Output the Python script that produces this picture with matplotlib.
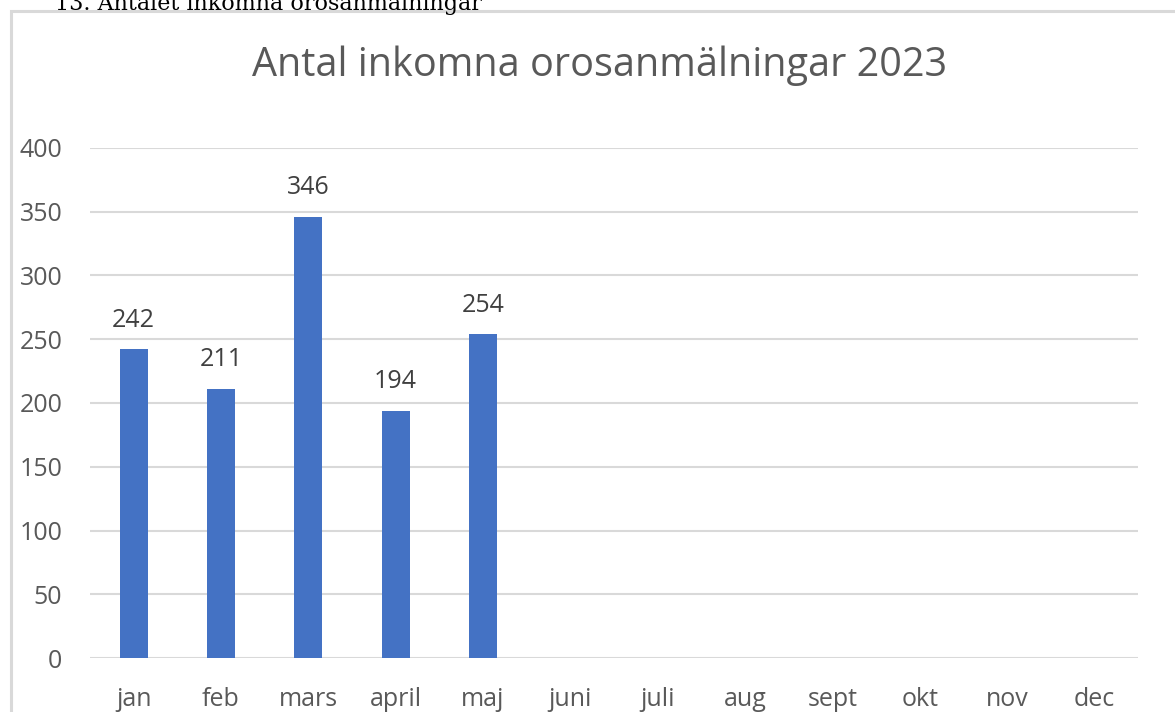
import matplotlib
matplotlib.use("Agg")
import matplotlib.pyplot as plt
from matplotlib.patches import Rectangle

months = ["jan", "feb", "mars", "april", "maj", "juni", "juli", "aug", "sept", "okt", "nov", "dec"]
values = [242, 211, 346, 194, 254]
yticks = [0, 50, 100, 150, 200, 250, 300, 350, 400]
title = "Antal inkomna orosanmälningar 2023"
header = "13. Antalet inkomna orosanmälningar"

W, H = 1175, 712
fig = plt.figure(figsize=(W / 100, H / 100), dpi=100)
fig.patch.set_facecolor("white")

# outer border of the chart object (cut off at right and bottom)
fig.patches.append(Rectangle((11 / W, -0.1), 1.2, (H - 11) / H + 0.1,
                             transform=fig.transFigure, fill=False,
                             edgecolor="#d9d9d9", linewidth=2.2))

# cropped header text above the chart
fig.text(55 / W, 1 - 4 / H, header, family="DejaVu Serif", fontsize=16,
         color="#000000", ha="left", va="center")

ax = fig.add_axes([90 / W, 1 - 658 / H, (1138 - 90) / W, (658 - 148) / H])
x = list(range(len(months)))
ax.bar(x[:len(values)], values, width=0.32, color="#4472c4", zorder=3)
for xi, v in zip(x, values):
    ax.text(xi, v + 13, str(v), ha="center", va="bottom", fontsize=18,
            color="#404040", family="Open Sans")

ax.set_xlim(-0.5, len(months) - 0.5)
ax.set_ylim(0, 400)
ax.set_yticks(yticks)
ax.set_xticks(x)
ax.set_xticklabels(months)
ax.yaxis.grid(True, color="#d9d9d9", linewidth=1.5, zorder=0)
ax.xaxis.grid(False)
for s in ax.spines.values():
    s.set_visible(False)
ax.tick_params(axis="both", length=0, labelsize=18, labelcolor="#595959")
ax.tick_params(axis="y", pad=20)
ax.tick_params(axis="x", pad=21)
for lab in ax.get_xticklabels() + ax.get_yticklabels():
    lab.set_family("Open Sans")
ax.set_facecolor("none")

fig.text(600 / W, 1 - 66 / H, title, ha="center", va="center", fontsize=28.5,
         color="#595959", family="Open Sans")

fig.savefig("out.png", dpi=100, facecolor="white")
